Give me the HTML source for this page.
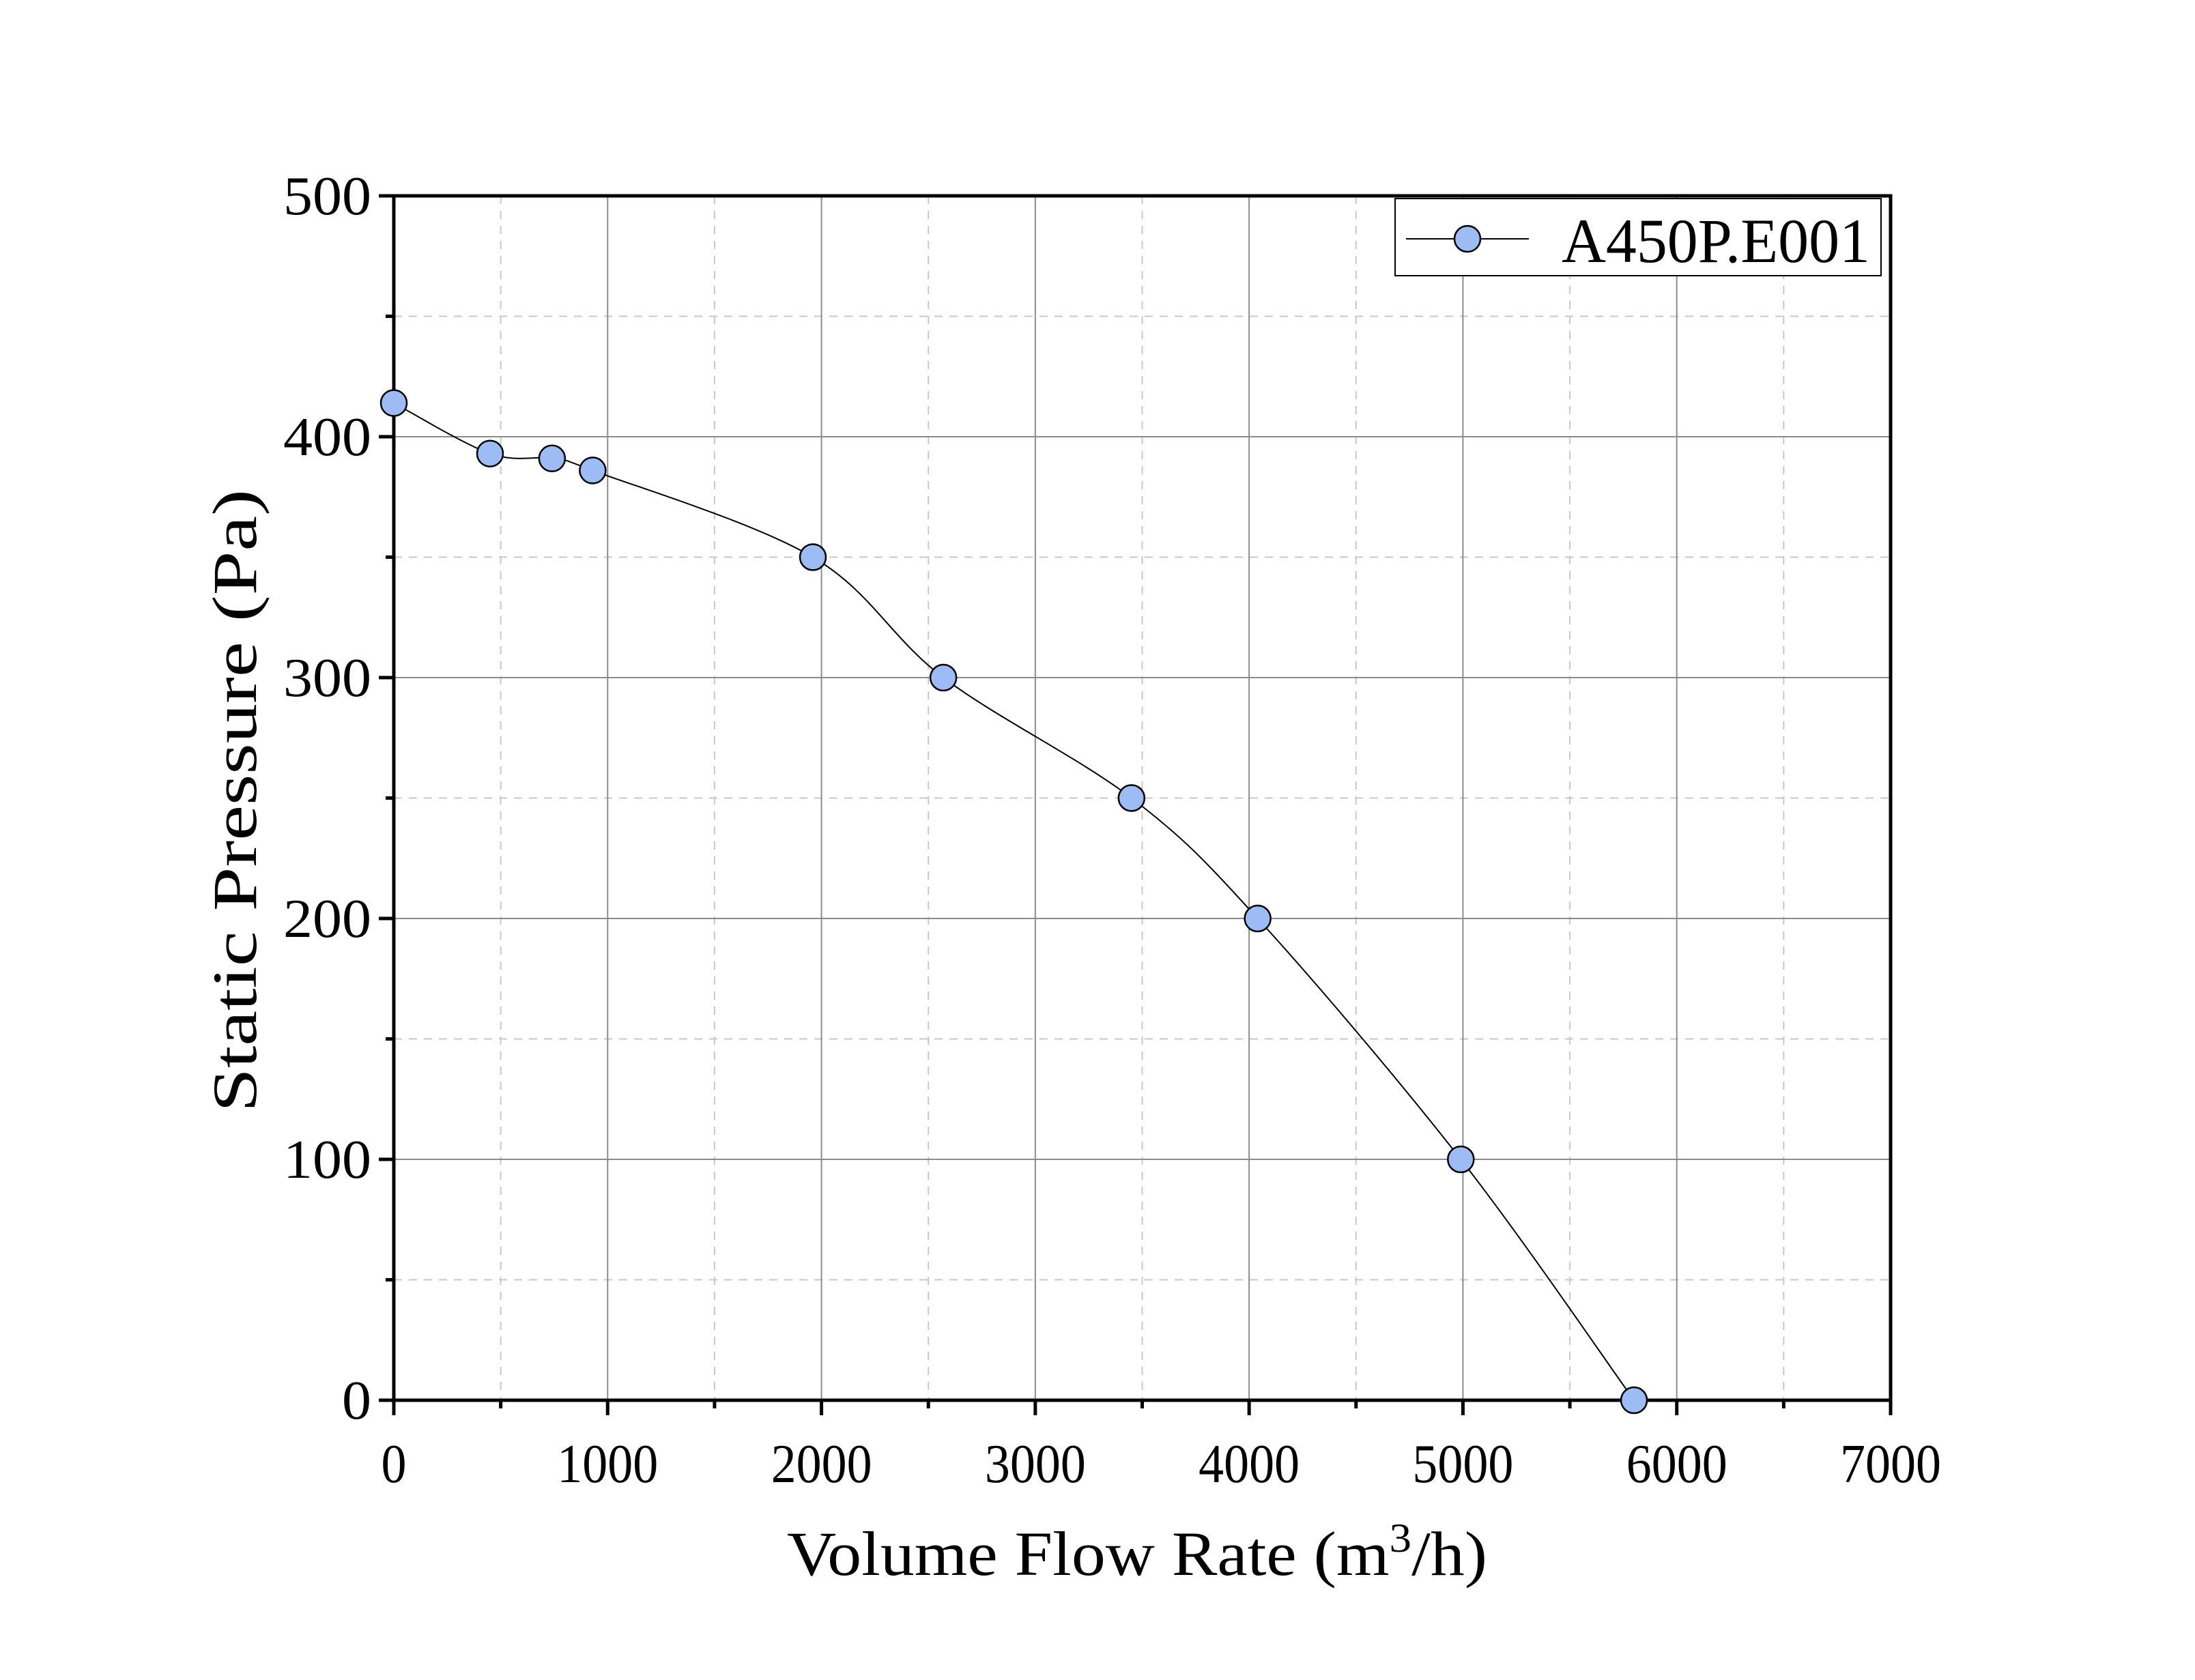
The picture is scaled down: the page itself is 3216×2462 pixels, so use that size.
<!DOCTYPE html>
<html><head><meta charset="utf-8"><style>
html,body{margin:0;padding:0;background:#fff;}
svg{display:block;}
text{font-family:"Liberation Serif","Noto Serif CJK SC",serif;fill:#000;}
</style></head><body>
<svg id="chart" width="3216" height="2462" viewBox="0 0 3216 2462" xmlns="http://www.w3.org/2000/svg">
<g id="grid"></g>
<g id="axes"></g>
<g id="series"></g>
<g>
  <rect x="2044" y="291" width="712" height="113" fill="#fff" stroke="#000" stroke-width="2"/>
  <line x1="2060" y1="350" x2="2240" y2="350" stroke="#000" stroke-width="2"/>
  <circle cx="2150" cy="350" r="19" fill="#9dbcf5" stroke="#000" stroke-width="2.5"/>
  <text x="2288" y="384" font-size="92" textLength="452" lengthAdjust="spacingAndGlyphs">A450P.E001</text>
</g>
<text x="1153" y="2308" font-size="92" textLength="1026" lengthAdjust="spacingAndGlyphs">Volume Flow Rate (m<tspan dy="-34" font-size="60">3</tspan><tspan dy="34">/h)</tspan></text>
<text x="-456" y="30" font-size="92" textLength="913" lengthAdjust="spacingAndGlyphs" transform="translate(345,1174) rotate(-90)">Static Pressure (Pa)</text>
</svg>
<script>
const xTicks=[0,1000,2000,3000,4000,5000,6000,7000];
const yTicks=[0,100,200,300,400,500];
const flowValues=[0,450,740,930,1960,2570,3450,4040,4990,5800];
const pressureValues=[414,393,391,386,350,300,250,200,100,0];
const L=577,R=2770,T=287,B=2052;
const X=v=>L+(v-0)/(7000)*(R-L);
const Y=v=>B-(v)/(500)*(B-T);
const NS="http://www.w3.org/2000/svg";
function mk(tag,attrs,parent){const e=document.createElementNS(NS,tag);for(const k in attrs)e.setAttribute(k,attrs[k]);parent.appendChild(e);return e;}
const grid=document.getElementById('grid'),axes=document.getElementById('axes'),series=document.getElementById('series');
for(let v=500;v<7000;v+=1000){const l=mk('line',{x1:X(v),x2:X(v),y1:T,y2:B,stroke:'#c8c8c8','stroke-width':2,'stroke-dasharray':'12,10'},grid);

}
for(let v=50;v<500;v+=100){const l=mk('line',{x1:L,x2:R,y1:Y(v),y2:Y(v),stroke:'#c8c8c8','stroke-width':2,'stroke-dasharray':'12,10'},grid);

}
xTicks.forEach(v=>{if(v>0&&v<7000){const l=mk('line',{x1:X(v),x2:X(v),y1:T,y2:B,stroke:'#8c8c8c','stroke-width':2},grid);

}});
yTicks.forEach(v=>{if(v>0&&v<500){const l=mk('line',{x1:L,x2:R,y1:Y(v),y2:Y(v),stroke:'#8c8c8c','stroke-width':2},grid);

}});
const fr=mk('rect',{x:L,y:T,width:R-L,height:B-T,fill:'none',stroke:'#000','stroke-width':5},axes);


xTicks.forEach(v=>{const t=mk('line',{x1:X(v),x2:X(v),y1:B,y2:B+22,stroke:'#000','stroke-width':5},axes);


const s=String(v),w=37*s.length;
const tx=mk('text',{x:X(v)-w/2,y:B+120,'font-size':80,textLength:w,lengthAdjust:'spacingAndGlyphs'},axes);tx.textContent=s;

});
for(let v=500;v<7000;v+=1000){const t=mk('line',{x1:X(v),x2:X(v),y1:B,y2:B+12,stroke:'#000','stroke-width':5},axes);

}
yTicks.forEach(v=>{const t=mk('line',{x1:L-22,x2:L,y1:Y(v),y2:Y(v),stroke:'#000','stroke-width':5},axes);


const s=String(v),w=43*s.length;
const tx=mk('text',{x:L-33-w,y:Y(v)+27,'font-size':80,textLength:w,lengthAdjust:'spacingAndGlyphs'},axes);tx.textContent=s;

});
for(let v=50;v<500;v+=100){const t=mk('line',{x1:L-12,x2:L,y1:Y(v),y2:Y(v),stroke:'#000','stroke-width':5},axes);

}
const pts=flowValues.map((f,i)=>[X(f),Y(pressureValues[i])]);
let d=`M${pts[0][0]},${pts[0][1]}`;
for(let i=0;i<pts.length-1;i++){const p0=pts[Math.max(0,i-1)],p1=pts[i],p2=pts[i+1],p3=pts[Math.min(pts.length-1,i+2)];
const c1=[p1[0]+(p2[0]-p0[0])/6,p1[1]+(p2[1]-p0[1])/6],c2=[p2[0]-(p3[0]-p1[0])/6,p2[1]-(p3[1]-p1[1])/6];
d+=` C${c1[0]},${c1[1]} ${c2[0]},${c2[1]} ${p2[0]},${p2[1]}`;}
const path=mk('path',{d:d,fill:'none',stroke:'#000','stroke-width':2},series);


pts.forEach(p=>{const c=mk('circle',{cx:p[0],cy:p[1],r:19,fill:'#9dbcf5',stroke:'#000','stroke-width':2.5},series);

});
</script>
</body></html>
